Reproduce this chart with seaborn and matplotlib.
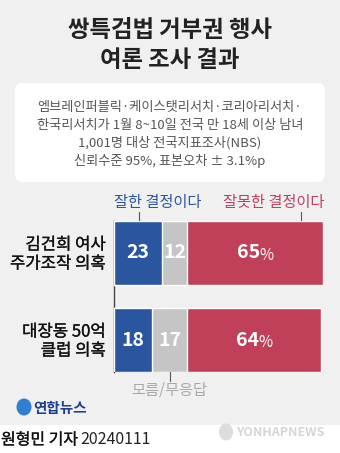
import numpy as np
import pandas as pd
import matplotlib
matplotlib.use("Agg")
import matplotlib.pyplot as plt
import matplotlib.patheffects as pe
import seaborn as sns
from matplotlib.patches import FancyBboxPatch, Rectangle, Ellipse

# 데이터
items = ['김건희 여사\n주가조작 의혹', '대장동 50억\n클럽 의혹']
good = [23, 18]      # 잘한 결정이다
unknown = [12, 17]   # 모름/무응답
bad = [65, 64]       # 잘못한 결정이다

title = '쌍특검법 거부권 행사\n여론 조사 결과'
note_lines = ['엠브레인퍼블릭·케이스탯리서치·코리아리서치·',
              '한국리서치가 1월 8~10일 전국 만 18세 이상 남녀',
              '1,001명 대상 전국지표조사(NBS)',
              '신뢰수준 95%, 표본오차 ± 3.1%p']

BLUE = '#2a56a0'
GRAY = '#c5c5c5'
RED = '#c03f59'
BG = '#f0f0f0'

sns.set_style('white')
plt.rcParams['font.family'] = ['Noto Sans CJK KR', 'DejaVu Sans']

df = pd.DataFrame({'item': items, 'good': good, 'unknown': unknown, 'bad': bad})
df['c1'] = df['good']
df['c2'] = df['good'] + df['unknown']
df['c3'] = df['c2'] + df['bad']

W, H = 340, 453
fig = plt.figure(figsize=(W / 100, H / 100), dpi=100)
fig.patch.set_facecolor('white')

def px(x, y):
    return x / W, 1 - y / H

# 중간 굵기 흉내 (얇은 외곽선)
medium = [pe.withStroke(linewidth=0.2, foreground='#111111')]

# 회색 배경 + 흰 박스
fig.patches.append(Rectangle((0, 1 - 425 / H), 1, 425 / H, transform=fig.transFigure,
                             facecolor=BG, edgecolor='none', zorder=-2))
fig.patches.append(FancyBboxPatch(px(15, 182), 310 / W, 99 / H, transform=fig.transFigure,
                                  boxstyle='round,pad=0,rounding_size=0.02',
                                  facecolor='white', edgecolor='none', zorder=-1))

fig.text(*px(170, 45), title, ha='center', va='center', fontsize=16.8,
         fontweight='bold', color='#222222', linespacing=1.3)
for line, yy in zip(note_lines, [107, 125, 143, 161]):
    fig.text(*px(170, yy), line, ha='center', va='center', fontsize=9.5, color='#555555')

# 막대
l, b = px(114, 372)
ax = fig.add_axes([l, b, 209 / W, 151 / H])
ax.set_zorder(5)
ax.set_facecolor('none')
sns.barplot(data=df, x='c3', y='item', orient='h', color=RED, width=0.73,
            saturation=1, ax=ax)
sns.barplot(data=df, x='c2', y='item', orient='h', color=GRAY, width=0.73,
            saturation=1, ax=ax)
sns.barplot(data=df, x='c1', y='item', orient='h', color=BLUE, width=0.73,
            saturation=1, ax=ax)
ax.set_xlim(0, 100)
ax.set_ylim(1.365, -0.365)
ax.set_xlabel('')
ax.set_ylabel('')
ax.set_xticks([])
ax.set_yticks([])
for s in ['top', 'right', 'bottom']:
    ax.spines[s].set_visible(False)
ax.spines['left'].set_color('#444444')
ax.spines['left'].set_linewidth(1)
ax.spines['left'].set_zorder(0)

for i, row in df.iterrows():
    ax.text(row['good'] / 2, i, str(row['good']), ha='center', va='center',
            color='white', fontsize=14, fontweight='bold')
    ax.text(row['c1'] + row['unknown'] / 2, i, str(row['unknown']), ha='center',
            va='center', color='white', fontsize=14, fontweight='bold')
    mid = row['c2'] + row['bad'] / 2
    ax.text(mid + 2.5, i, str(row['bad']), ha='right', va='center',
            color='white', fontsize=14, fontweight='bold')
    ax.text(mid + 1.9, i + 0.03, '%', ha='left', va='center',
            color='white', fontsize=11)
    lines = row['item'].split('\n')
    fig.text(*px(106, 245 + i * 87), lines[0], ha='right', va='center',
             fontsize=12, color='#111111', path_effects=medium)
    fig.text(*px(106, 264 + i * 87), lines[1], ha='right', va='center',
             fontsize=12, color='#111111', path_effects=medium)

# 범례 라벨 및 지시선
fig.text(*px(158, 202), '잘한 결정이다', ha='center', va='center', fontsize=11, color=BLUE)
fig.text(*px(324, 202), '잘못한 결정이다', ha='right', va='center', fontsize=11, color=RED)
fig.text(*px(169, 390), '모름/무응답', ha='center', va='center', fontsize=11, color='#aaaaaa')
for x0, y0, y1 in [(139, 212, 221), (301, 212, 221), (170, 372, 381)]:
    fig.add_artist(plt.Line2D([x0 / W, x0 / W], [1 - y0 / H, 1 - y1 / H],
                              transform=fig.transFigure, color='#555555', lw=0.8))

# 로고 / 크레딧
fig.patches.append(Ellipse(px(24, 407), 15 / W, 17 / H, transform=fig.transFigure,
                           facecolor='#2f7fd0', edgecolor='none'))
fig.text(*px(33, 408), '연합뉴스', ha='left', va='center', fontsize=10.5,
         fontweight='bold', color='#1d3f8f')
fig.text(*px(1, 440), '원형민 기자', ha='left', va='center', fontsize=11.5,
         color='#111111', path_effects=medium)
fig.text(*px(80, 440), '20240111', ha='left', va='center', fontsize=11.5, color='#222222')
fig.patches.append(Ellipse(px(226, 432), 14 / W, 17 / H, transform=fig.transFigure,
                           facecolor='#dddddd', edgecolor='none'))
fig.text(*px(236, 432), 'YONHAPNEWS', ha='left', va='center', fontsize=9,
         fontweight='bold', color='#d5d5d5')

fig.savefig('out.png', dpi=100, facecolor=fig.get_facecolor())
